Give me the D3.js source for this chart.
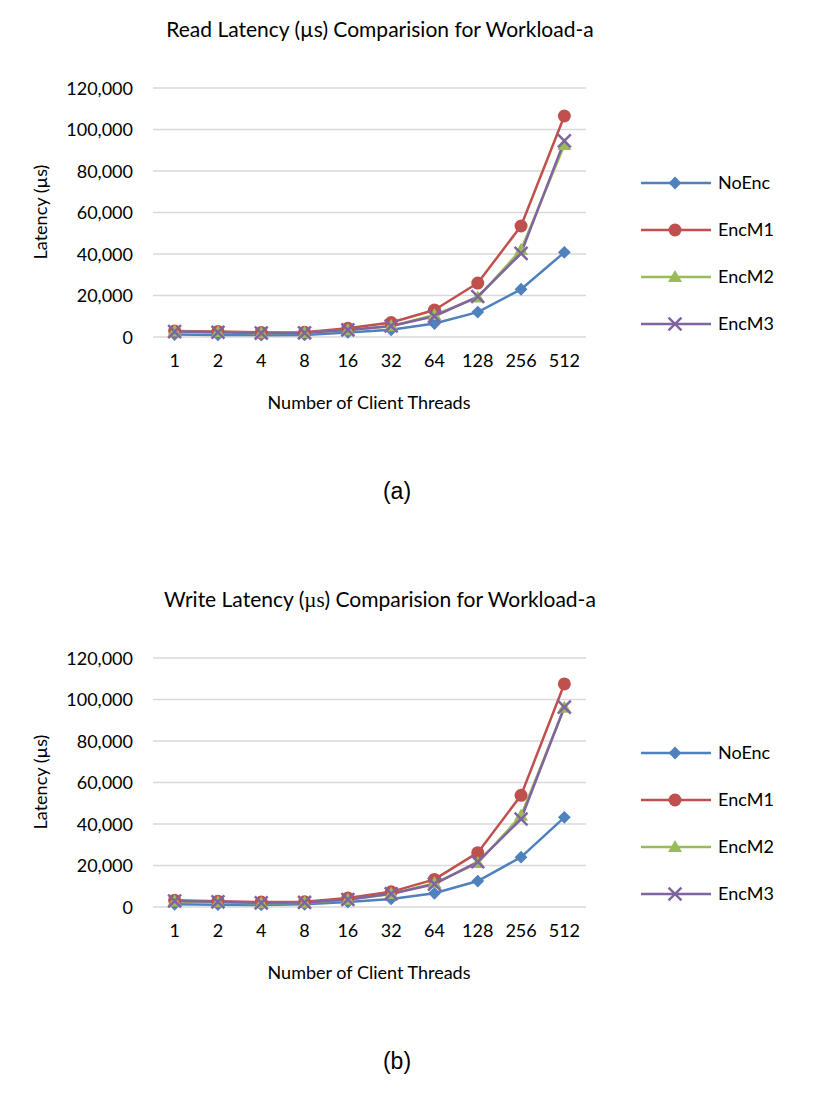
<!DOCTYPE html>
<html><head><meta charset="utf-8">
<script src="https://cdn.jsdelivr.net/npm/d3@7"></script>
<style>
body{margin:0;background:#fff;}
svg text{font-family:Lato, "Open Sans", sans-serif;fill:#000;}
</style></head>
<body><svg id="c" width="823" height="1093"></svg>
<script>
const categories = ["1","2","4","8","16","32","64","128","256","512"];
const seriesNames = ["NoEnc","EncM1","EncM2","EncM3"];
const colors = ["#4F81BD","#C0504D","#9BBB59","#8064A2"];
const yTicks = [0,20000,40000,60000,80000,100000,120000];

// Read latency (a)
const readNoEnc = [1200,1000,900,1000,2200,3500,6500,12000,23000,40800];
const readEncM1 = [2900,2700,2200,2300,4200,7000,13000,26000,53500,106500];
const readEncM2 = [2700,2300,1800,2000,3300,5200,10600,19000,42000,92500];
const readEncM3 = [2600,2300,1900,2000,3400,5300,10000,19500,40300,94500];

// Write latency (b)
const writeNoEnc = [1300,1100,1000,1300,2400,3900,6600,12500,24000,43200];
const writeEncM1 = [3200,2800,2400,2500,4300,7300,13300,26200,53800,107500];
const writeEncM2 = [2700,2300,1800,2100,3500,6300,11500,21200,44000,96000];
const writeEncM3 = [2900,2500,2000,2200,3600,6400,11000,21800,42400,96300];

const svg = d3.select("#c");

function drawChart(offsetY, titleParts, series, label){
  const g = svg.append("g").attr("transform", `translate(0,${offsetY})`);
  const x = d3.scaleBand().domain(categories).range([153,586]);
  const y = d3.scaleLinear().domain([0,120000]).range([337,88]);

  // title
  const t = g.append("text").attr("x",380).attr("y",37).attr("text-anchor","middle").style("font-size","21px");
  titleParts.forEach(p => {
    const ts = t.append("tspan").text(p.text);
    if (p.serif) ts.style("font-family","'Liberation Serif', serif");
  });

  // grid
  g.selectAll("line.grid").data(yTicks).enter().append("line")
    .attr("x1",153).attr("x2",586).attr("y1",d=>y(d)).attr("y2",d=>y(d))
    .attr("stroke","#D9D9D9").attr("stroke-width",1.3);

  // y axis labels
  const yAxis = d3.axisLeft(y).tickValues(yTicks).tickSize(0).tickPadding(0).tickFormat(d3.format(","));
  const ya = g.append("g").attr("transform","translate(133,0)").call(yAxis);
  ya.select(".domain").remove();
  ya.selectAll("text").style("font-size","18px").style("font-family","Lato, sans-serif").attr("dy","0.35em").attr("fill","#000");

  // x axis labels
  const xAxis = d3.axisBottom(x).tickSize(0).tickPadding(0);
  const xa = g.append("g").attr("transform","translate(0,351)").call(xAxis);
  xa.select(".domain").remove();
  xa.selectAll("text").style("font-size","18px").style("font-family","Lato, sans-serif").attr("fill","#000").attr("dy","0.9em");

  // axis titles
  g.append("text").attr("x",369).attr("y",409).attr("text-anchor","middle").style("font-size","18px").text("Number of Client Threads");
  g.append("text").attr("transform","translate(47,212) rotate(-90)").attr("text-anchor","middle").style("font-size","18px")
    .text("Latency (µs)");

  const line = d3.line().x((d,i)=>x(categories[i])+x.bandwidth()/2).y(d=>y(d));
  series.forEach((vals,si)=>{
    g.append("path").datum(vals).attr("d",line).attr("fill","none").attr("stroke",colors[si]).attr("stroke-width",2.5).attr("stroke-linejoin","round");
  });
  series.forEach((vals,si)=>{
    vals.forEach((v,i)=>{
      drawMarker(g, si, x(categories[i])+x.bandwidth()/2, y(v));
    });
  });

  // legend
  seriesNames.forEach((n,si)=>{
    const ly = 183 + si*47;
    g.append("line").attr("x1",641).attr("x2",711).attr("y1",ly).attr("y2",ly).attr("stroke",colors[si]).attr("stroke-width",2.5);
    drawMarker(g, si, 675, ly);
    g.append("text").attr("x",718).attr("y",ly).attr("dy","0.35em").style("font-size","18px").text(n);
  });

  // label
  svg.append("text").attr("x",397).attr("y",offsetY+499).attr("text-anchor","middle")
    .style("font-family","'Liberation Sans', Arial, sans-serif").style("font-size","23px").text(label);
}

function drawMarker(g, si, cx, cy){
  const c = colors[si];
  if (si===0){
    g.append("path").attr("d",d3.symbol(d3.symbolSquare,82)()).attr("transform",`translate(${cx},${cy}) rotate(45)`).attr("fill",c);
  } else if (si===1){
    g.append("circle").attr("cx",cx).attr("cy",cy).attr("r",6.5).attr("fill",c);
  } else if (si===2){
    g.append("path").attr("d",d3.symbol(d3.symbolTriangle,85)()).attr("transform",`translate(${cx},${cy+1})`).attr("fill",c);
  } else {
    g.append("path").attr("d",d3.symbol(d3.symbolX,110)()).attr("transform",`translate(${cx},${cy})`).attr("fill","none").attr("stroke",c).attr("stroke-width",2.5);
  }
}

drawChart(0, [{text:"Read Latency (µs) Comparision for Workload-a"}], [readNoEnc,readEncM1,readEncM2,readEncM3], "(a)");
drawChart(570, [{text:"Write Latency ("},{text:"µs",serif:true},{text:") Comparision for Workload-a"}], [writeNoEnc,writeEncM1,writeEncM2,writeEncM3], "(b)");
</script></body></html>
